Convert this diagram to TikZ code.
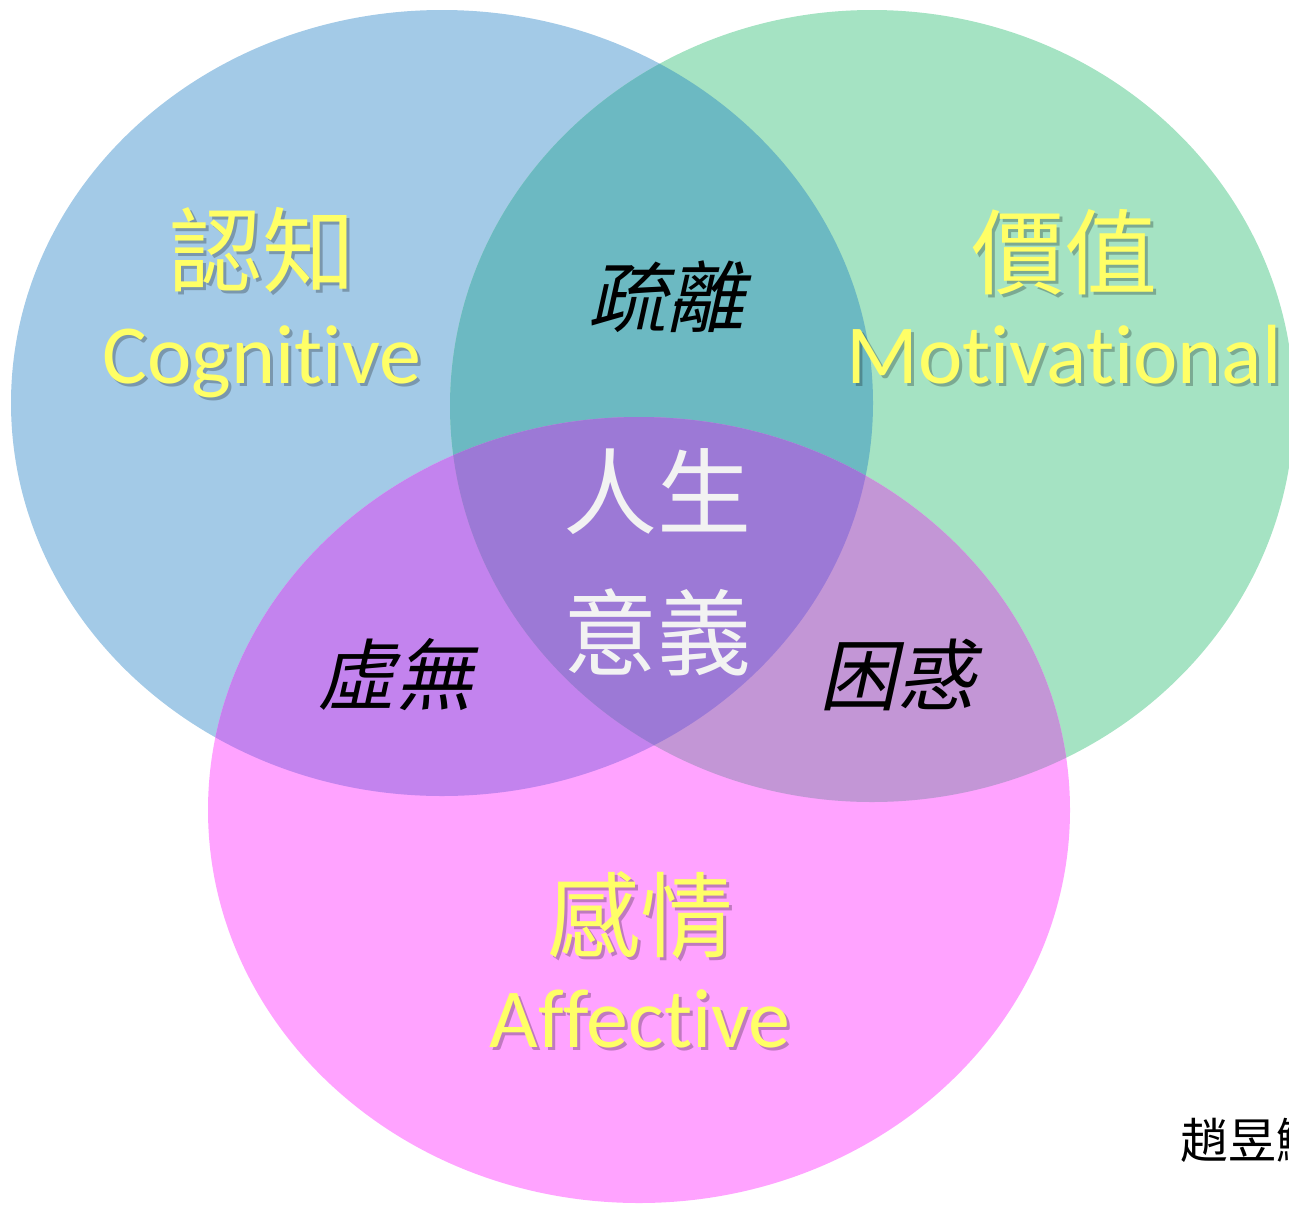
\documentclass[tikz,border=0pt]{standalone}
\usepackage{fontspec}
\newfontfamily\cjk{Noto Sans CJK TC}
\newfontfamily\cjkit[FakeSlant=0.22]{Noto Sans CJK TC}
\newfontfamily\latf[Ligatures={NoCommon,NoRequired,NoContextual}]{Carlito}
\definecolor{cblue}{HTML}{A3CAE7}
\definecolor{cgreen}{HTML}{A5E3C3}
\definecolor{cpink}{HTML}{FFA3FF}
\definecolor{cbg}{HTML}{6CB9C2}
\definecolor{cbp}{HTML}{C383EE}
\definecolor{cgp}{HTML}{C396D6}
\definecolor{cbgp}{HTML}{9C79D6}
\definecolor{tyellow}{HTML}{FFFF66}
\definecolor{twhite}{HTML}{F2F2F2}
\begin{document}
\begin{tikzpicture}[x=1pt,y=-1pt,
  every node/.style={inner sep=0pt,outer sep=0pt},
  ylbl/.style={text=tyellow},
  shad/.style={text=black,opacity=0.25},
  cjkbig/.style={font=\cjk\fontsize{93}{93}\selectfont},
  latbig/.style={font=\latf\fontsize{84}{84}\selectfont},
  itlbl/.style={text=black,font=\cjkit\fontsize{78}{78}\selectfont},
  midlbl/.style={text=twhite,font=\cjk\fontsize{94}{94}\selectfont}]
\useasboundingbox (0,0) rectangle (1289,1205);
\clip (0,0) rectangle (1289,1205);
\def\blueE{(442,403) ellipse [x radius=431,y radius=393]}
\def\greenE{(872,406) ellipse [x radius=422,y radius=396]}
\def\pinkE{(639,810) ellipse [x radius=431,y radius=393]}
\fill[cblue] \blueE;
\fill[cgreen] \greenE;
\fill[cpink] \pinkE;
\begin{scope}\clip \blueE; \fill[cbg] \greenE; \end{scope}
\begin{scope}\clip \blueE; \fill[cbp] \pinkE; \end{scope}
\begin{scope}\clip \greenE; \fill[cgp] \pinkE; \end{scope}
\begin{scope}\clip \blueE; \clip \greenE; \fill[cbgp] \pinkE; \end{scope}
% shadows
\node[shad,cjkbig] (s1) at (265,253) {認知};
\node[shad,latbig,anchor=base] (s2) at (265,386) {Cognitive};
\node[shad,cjkbig] (s3) at (1067,255) {價值};
\node[shad,latbig,anchor=base] (s4) at (1067,386) {Motivational};
\node[shad,cjkbig] (s5) at (643,918) {感情};
\node[shad,latbig,anchor=base] (s6) at (643,1050) {Affective};
% labels
\node[ylbl,cjkbig] (cog) at (262,250) {認知};
\node[ylbl,latbig,anchor=base] (cogE) at (262,383) {Cognitive};
\node[ylbl,cjkbig] (mot) at (1064,252) {價值};
\node[ylbl,latbig,anchor=base] (motE) at (1064,383) {Motivational};
\node[ylbl,cjkbig] (aff) at (640,915) {感情};
\node[ylbl,latbig,anchor=base] (affE) at (640,1047) {Affective};
\node[itlbl] (bg) at (666,297) {疏離};
\node[itlbl] (bp) at (395,675) {虛無};
\node[itlbl] (gp) at (897,675) {困惑};
\node[midlbl] (m1) at (657,492) {人生};
\node[midlbl] (m2) at (657,632) {意義};
\node[font=\cjk\fontsize{48}{48}\selectfont,anchor=west] (auth) at (1180,1140) {趙昱鯤};
\end{tikzpicture}
\end{document}
